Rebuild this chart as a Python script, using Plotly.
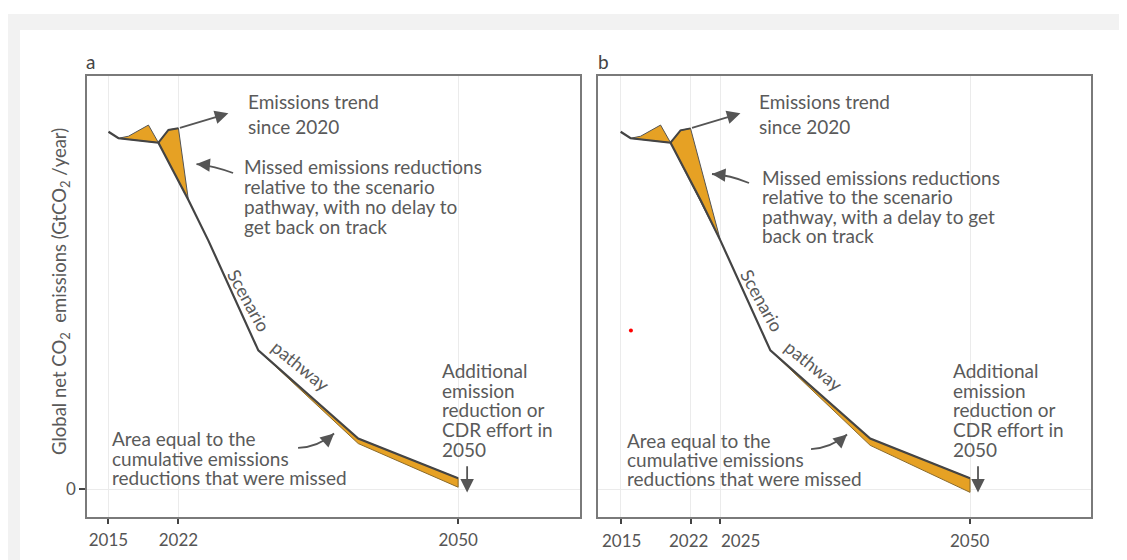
import plotly.graph_objects as go
from plotly.subplots import make_subplots

# Schematic values, GtCO2/yr
base_years = [2015, 2016, 2020, 2023, 2025, 2030, 2040, 2050]
base_values = [39.7, 38.97, 38.48, 32.1, 27.6, 15.4, 5.6, 1.2]

bump_years = [2016, 2017, 2019, 2020]
bump_values = [38.97, 39.2, 40.44, 38.48]

trend_years_a = [2020, 2021, 2022, 2023]
trend_values_a = [38.48, 39.9, 40.08, 32.1]
trend_years_b = [2020, 2021, 2022, 2025]
trend_values_b = [38.48, 39.85, 40.07, 27.6]

band_years = [2030, 2040, 2050]
band_upper = [15.4, 5.6, 1.2]
band_lower_a = [15.4, 5.05, 0.2]
band_lower_b = [15.4, 4.85, -0.37]

trend_arrow_years = [2022, 2027]
trend_arrow_values = [40.08, 41.74]

ticks_a = [2015, 2022, 2050]
ticks_b = [2015, 2022, 2025, 2050]

ORANGE = '#E6A124'
EDGE = '#555555'
LINE = '#444444'
TXT = '#5a5a5a'
FONT = 'Lato'
FS = 19

fig = make_subplots(rows=1, cols=2, horizontal_spacing=0.0179)


def add_panel(col, trend_years, trend_values, band_lower):
    # past bump and missed reductions, filled
    fig.add_trace(go.Scatter(x=bump_years + [bump_years[0]], y=bump_values + [bump_values[0]],
                             fill='toself', fillcolor=ORANGE, mode='lines',
                             line=dict(color=EDGE, width=1)), row=1, col=col)
    fig.add_trace(go.Scatter(x=trend_years + [trend_years[0]], y=trend_values + [trend_values[0]],
                             fill='toself', fillcolor=ORANGE, mode='lines',
                             line=dict(color=EDGE, width=1)), row=1, col=col)
    fig.add_trace(go.Scatter(x=band_years + band_years[::-1], y=band_upper + band_lower[::-1],
                             fill='toself', fillcolor=ORANGE, mode='lines',
                             line=dict(color='#8a6a2a', width=1)), row=1, col=col)
    # emissions trend since 2020
    fig.add_trace(go.Scatter(x=trend_years[:3], y=trend_values[:3], mode='lines',
                             line=dict(color=LINE, width=2)), row=1, col=col)
    # scenario pathway
    fig.add_trace(go.Scatter(x=base_years, y=base_values, mode='lines',
                             line=dict(color=LINE, width=2.2)), row=1, col=col)


add_panel(1, trend_years_a, trend_values_a, band_lower_a)
add_panel(2, trend_years_b, trend_values_b, band_lower_b)

# stray red dot in panel b
fig.add_trace(go.Scatter(x=[2016.03], y=[17.6], mode='markers',
                         marker=dict(color='red', size=4)), row=1, col=2)

annotations = []
shapes = []


def text(xr, yr, x, y, s, angle=0, xanchor='left', size=FS):
    annotations.append(dict(xref=xr, yref=yr, x=x, y=y, text=s, showarrow=False,
                            xanchor=xanchor, yanchor='middle', textangle=angle,
                            font=dict(family=FONT, size=size, color=TXT)))


def arrow(xr, yr, x, y, ax, ay, data_tail=True):
    a = dict(xref=xr, yref=yr, x=x, y=y, ax=ax, ay=ay, text='', showarrow=True,
             arrowhead=2, arrowsize=1.5, arrowwidth=1.8, arrowcolor=EDGE, standoff=0)
    if data_tail:
        a.update(axref=xr, ayref=yr)
    annotations.append(a)


def curved(xr, yr, p0, c, p1, head_off):
    shapes.append(dict(type='path', xref=xr, yref=yr,
                       path=f'M {p0[0]},{p0[1]} Q {c[0]},{c[1]} {p1[0]},{p1[1]}',
                       line=dict(color=EDGE, width=1.8)))
    arrow(xr, yr, p1[0], p1[1], head_off[0], head_off[1], data_tail=False)


panels = [
    ('x', 'y', 2028.77, ['Missed emissions reductions', 'relative to the scenario',
                         'pathway, with no delay to', 'get back on track'],
     2028.4, [35.81, 33.59, 31.37, 29.14]),
    ('x2', 'y2', 2028.68, ['Missed emissions reductions', 'relative to the scenario',
                           'pathway, with a delay to get', 'back on track'],
     2028.93, [34.59, 32.48, 30.33, 28.22]),
]

for i, (xr, yr, tx, missed, mx, my) in enumerate(panels):
    text(xr, yr, tx, 43.03, 'Emissions trend')
    text(xr, yr, tx, 40.33, 'since 2020')
    for s, yy in zip(missed, my):
        text(xr, yr, mx, yy, s)
    arrow(xr, yr, trend_arrow_years[1], trend_arrow_values[1],
          trend_arrow_years[0], trend_arrow_values[0])
    ax0 = 2015.17 if i == 0 else 2015.43
    ay0 = [5.63, 3.41, 1.3] if i == 0 else [5.44, 3.33, 1.19]
    for s, yy in zip(['Area equal to the', 'cumulative emissions', 'reductions that were missed'], ay0):
        text(xr, yr, ax0, yy, s)
    adx = 2048.22 if i == 0 else 2048.1
    for s, yy in zip(['Additional', 'emission', 'reduction or', 'CDR effort in', '2050'],
                     [13.22, 11.0, 8.78, 6.56, 4.41]):
        text(xr, yr, adx, yy, s)
    dx = 2050.9 if i == 0 else 2050.8
    arrow(xr, yr, dx, -0.38, dx, 2.7)
    sx = 2029.1 if i == 0 else 2029.2
    text(xr, yr, sx, 20.9, 'Scenario', angle=61, xanchor='center', size=18)
    text(xr, yr, sx + 5.2, 13.7, 'pathway', angle=39, xanchor='center', size=18)

# curved arrows
curved('x', 'y', (2027.47, 35.11), (2025.66, 35.89), (2023.81, 36.11), (12, 1))
curved('x2', 'y2', (2027.86, 34.0), (2025.95, 34.89), (2024.15, 35.0), (12, 1))
curved('x', 'y', (2033.98, 4.56), (2035.98, 4.67), (2037.58, 6.17), (-9, 8))
curved('x2', 'y2', (2034.07, 4.44), (2036.07, 4.56), (2037.68, 6.06), (-9, 8))

# panel b tick labels: the 2025 label sits just right of its tick, as in the source figure
b_label_shift = {2015: (0.1, 'center'), 2022: (-0.25, 'center'), 2025: (-0.1, 'left'), 2050: (0, 'center')}
for t in ticks_b:
    dxs, anc = b_label_shift[t]
    annotations.append(dict(xref='x2', yref='paper', x=t + dxs, y=-0.0522, text=str(t),
                            showarrow=False, xanchor=anc, yanchor='middle',
                            font=dict(family=FONT, size=17, color='#555')))

# panel letters and y title
annotations.append(dict(xref='paper', yref='paper', x=0.003, y=1.034, text='a', showarrow=False,
                        xanchor='center', yanchor='middle',
                        font=dict(family=FONT, size=19, color='#444')))
annotations.append(dict(xref='paper', yref='paper', x=0.514, y=1.034, text='b', showarrow=False,
                        xanchor='center', yanchor='middle',
                        font=dict(family=FONT, size=19, color='#444')))
annotations.append(dict(xref='paper', yref='paper', x=-0.0259, y=0.5125, textangle=-90,
                        xanchor='center', yanchor='middle',
                        text='Global net CO<sub>2</sub> \u00a0emissions (GtCO<sub>2</sub> /year)',
                        showarrow=False, font=dict(family=FONT, size=18.5, color=TXT)))

# page background: grey frame with white card
shapes.insert(0, dict(type='rect', xref='paper', yref='paper', layer='below',
                      x0=-0.0797, x1=1.04, y0=-0.1, y1=1.1406,
                      fillcolor='#f2f2f2', line=dict(width=0)))
shapes.insert(1, dict(type='rect', xref='paper', yref='paper', layer='below',
                      x0=-0.0667, x1=1.0319, y0=-0.1, y1=1.1043,
                      fillcolor='white', line=dict(width=0)))

axis_common = dict(showline=True, mirror=True, linecolor='#7a7a7a', linewidth=1.5,
                   showgrid=True, gridcolor='#ebebeb', gridwidth=1, zeroline=False,
                   automargin=False, tickangle=0,
                   tickfont=dict(family=FONT, size=17, color='#555'))

fig.update_xaxes(**axis_common, ticks='outside', ticklen=5, tickwidth=1.5, tickcolor='#444',
                 ticklabelstandoff=2,
                 range=[2012.85, 2062.2], tickvals=ticks_a, row=1, col=1)
fig.update_xaxes(**axis_common, ticks='outside', ticklen=5, tickwidth=1.5, tickcolor='#444',
                 showticklabels=False,
                 range=[2012.73, 2062.12], tickvals=ticks_b, row=1, col=2)
fig.update_yaxes(**axis_common, range=[-3.11, 45.89], tickvals=[0], ticks='outside',
                 ticklen=6, tickwidth=1.5, tickcolor='#444', row=1, col=1)
fig.update_yaxes(**axis_common, range=[-3.11, 45.89], tickvals=[0], showticklabels=False,
                 row=1, col=2)

# page body adds an 8px margin, so the figure is 8px smaller and shifted
fig.update_layout(
    width=1119, height=552,
    margin=dict(l=79, r=36, t=68, b=43),
    paper_bgcolor='white', plot_bgcolor='white',
    showlegend=False,
    annotations=annotations,
    shapes=shapes,
    font=dict(family=FONT),
)

fig.write_html('out.html')
